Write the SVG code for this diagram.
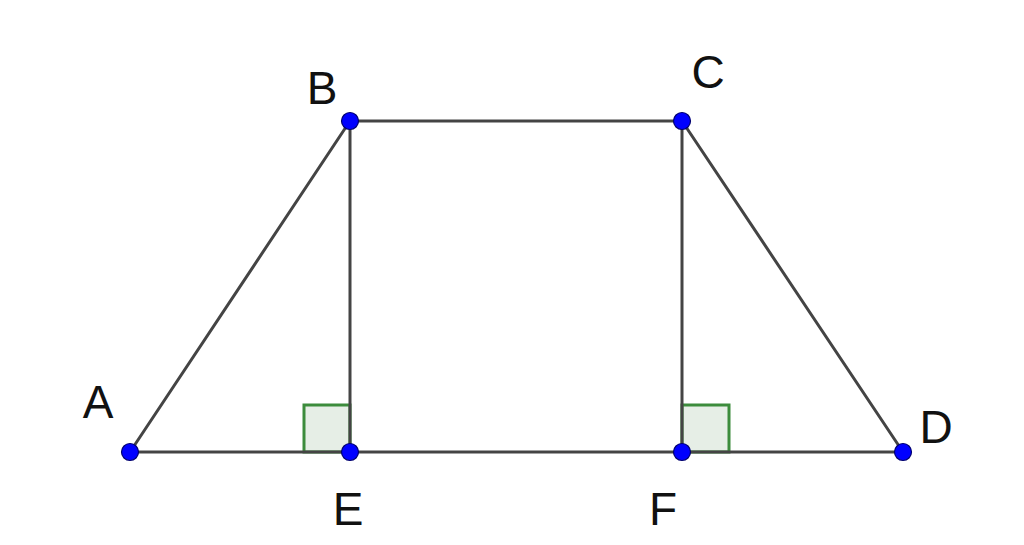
<svg xmlns="http://www.w3.org/2000/svg" width="1024" height="545" viewBox="0 0 1024 545">
<style>
.seg{stroke:#444;stroke-width:3;stroke-linecap:round;fill:none}
.ra{stroke:#3c8c3c;stroke-width:3;fill:#e6eee6}
.pt{fill:#0000ff;stroke:#00006e;stroke-width:1.2}
.lbl{font-family:"Liberation Sans",Arial,sans-serif;font-size:46px;fill:#111;text-anchor:middle}
</style>
<rect width="1024" height="545" fill="#fff"/>
<g id="right-angles">
<rect class="ra" x="304" y="405" width="46" height="47"/>
<rect class="ra" x="682" y="405" width="47" height="47"/>
</g>
<g id="connectors">
<line class="seg" x1="130" y1="452" x2="903" y2="452"/>
<line class="seg" x1="130" y1="452" x2="350" y2="121"/>
<line class="seg" x1="350" y1="121" x2="682" y2="121"/>
<line class="seg" x1="682" y1="121" x2="903" y2="452"/>
<line class="seg" x1="350" y1="121" x2="350" y2="452"/>
<line class="seg" x1="682" y1="121" x2="682" y2="452"/>
</g>
<g id="A"><circle class="pt" cx="130" cy="452" r="8.5"/><text class="lbl" x="98" y="418">A</text></g>
<g id="B"><circle class="pt" cx="350" cy="121" r="8.5"/><text class="lbl" x="322" y="104">B</text></g>
<g id="C"><circle class="pt" cx="682" cy="121" r="8.5"/><text class="lbl" x="708" y="88">C</text></g>
<g id="D"><circle class="pt" cx="903" cy="452" r="8.5"/><text class="lbl" x="936" y="443">D</text></g>
<g id="E"><circle class="pt" cx="350" cy="452" r="8.5"/><text class="lbl" x="348" y="525">E</text></g>
<g id="F"><circle class="pt" cx="682" cy="452" r="8.5"/><text class="lbl" x="663" y="525">F</text></g>
</svg>
